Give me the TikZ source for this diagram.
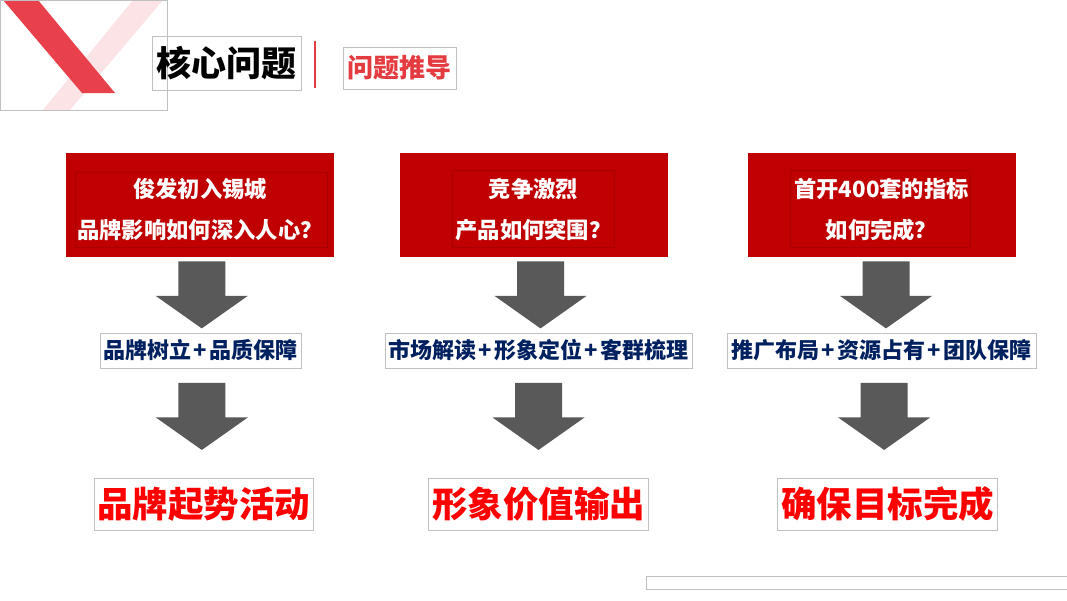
\documentclass[tikz,border=0pt]{standalone}
\usepackage{fontspec}
\setmainfont{Noto Sans CJK SC}
\usetikzlibrary{calc}
\definecolor{boxred}{HTML}{C00000}
\definecolor{innerred}{HTML}{A80000}
\definecolor{arrgray}{HTML}{595959}
\definecolor{navy}{HTML}{002060}
\definecolor{brightred}{HTML}{FF0000}
\definecolor{outl}{HTML}{C0C0C0}
\definecolor{bandred}{HTML}{E8414B}
\definecolor{bandpink}{HTML}{FBE3E6}
\definecolor{titlered}{HTML}{E33B3F}
\newcommand{\plussep}{\kern2.5pt+\kern2.5pt}
\tikzset{
  redbox/.style={fill=boxred, draw=none, minimum width=268pt, minimum height=104pt, inner sep=0pt},
  innerbox/.style={draw=innerred, line width=0.6pt, inner sep=0pt},
  redtext/.style={text=white, font=\bfseries\fontsize{22.3}{41}\selectfont, align=center, inner sep=0pt},
  midbox/.style={draw=outl, line width=0.8pt, fill=white, minimum height=35pt, inner sep=0pt,
    text=navy, font=\bfseries\fontsize{22}{26}\selectfont},
  botbox/.style={draw=outl, line width=0.8pt, fill=white, minimum width=220pt, minimum height=52pt, inner sep=0pt,
    text=brightred, font=\bfseries\fontsize{35.5}{40}\selectfont},
  blockarr/.pic={\fill[arrgray] (-23.5,-33.5) -- (23.5,-33.5) -- (23.5,1) -- (46,1) -- (0,33.5) -- (-46,1) -- (-23.5,1) -- cycle;}
}
\begin{document}
\begin{tikzpicture}[x=1pt,y=-1pt]
\useasboundingbox[fill=white] (0,0) rectangle (1067,600);
% decorative corner
\fill[bandpink] (133,0) -- (163,0) -- (70,110) -- (43,110) -- cycle;
\fill[bandred] (3,0) -- (38,0) -- (115,93) -- (82,93) -- cycle;
\node[draw=outl, line width=0.8pt, minimum width=167pt, minimum height=110pt, inner sep=0pt] (corner) at (83.5,55) {};
% title
\node[draw=outl, line width=0.8pt, minimum width=149pt, minimum height=54pt, inner sep=0pt,
  font=\bfseries\fontsize{35}{40}\selectfont] (title) at (226.5,63) {核心问题};
\draw[titlered, line width=2pt] (315,41) -- (315,88);
\node[draw=outl, line width=0.8pt, minimum width=113pt, minimum height=42pt, inner sep=0pt,
  text=titlered, font=\bfseries\fontsize{26}{30}\selectfont] (sub) at (399.5,68) {问题推导};
% red boxes
\node[redbox] (r1) at (200,205) {};
\node[innerbox, minimum width=252pt, minimum height=75pt] (i1) at (201,209.5) {};
\node[redtext] (t1) at (200,209.5) {俊发初入锡城\\品牌影响如何深入人心？};
\node[redbox] (r2) at (533.5,205) {};
\node[innerbox, minimum width=162pt, minimum height=77pt] (i2) at (533,208.5) {};
\node[redtext] (t2) at (533.5,209.5) {竞争激烈\\产品如何突围？};
\node[redbox] (r3) at (881.5,205) {};
\node[innerbox, minimum width=180pt, minimum height=77pt] (i3) at (880,208.5) {};
\node[redtext] (t3) at (881.5,209.5) {首开400套的指标\\如何完成？};
% middle boxes
\node[midbox, minimum width=201pt] (m1) at (200.5,350.5) {品牌树立\plussep 品质保障};
\node[midbox, minimum width=307pt] (m2) at (538.5,350.5) {市场解读\plussep 形象定位\plussep 客群梳理};
\node[midbox, minimum width=309pt] (m3) at (881.5,350.5) {推广布局\plussep 资源占有\plussep 团队保障};
% bottom boxes
\node[botbox, minimum width=219pt] (b1) at (203.5,504) {品牌起势活动};
\node[botbox] (b2) at (538.5,504) {形象价值输出};
\node[botbox] (b3) at (887.5,504) {确保目标完成};
% arrows
\pic at ($(r1.south)!0.5!(m1.north)+(1.5,0)$) {blockarr};
\pic at ($(r2.south)!0.5!(m2.north)+(4.5,0)$) {blockarr};
\pic at ($(r3.south)!0.5!(m3.north)+(4.5,0)$) {blockarr};
\pic at ($(m1.south)!0.44!(b1.north)$) {blockarr};
\pic at ($(m2.south)!0.44!(b2.north)$) {blockarr};
\pic at ($(m3.south)!0.44!(b3.north)$) {blockarr};
% bottom bar
\node[draw=outl, line width=0.8pt, minimum width=425pt, minimum height=13pt, inner sep=0pt] (bar) at (858.5,582.5) {};
\end{tikzpicture}
\end{document}
